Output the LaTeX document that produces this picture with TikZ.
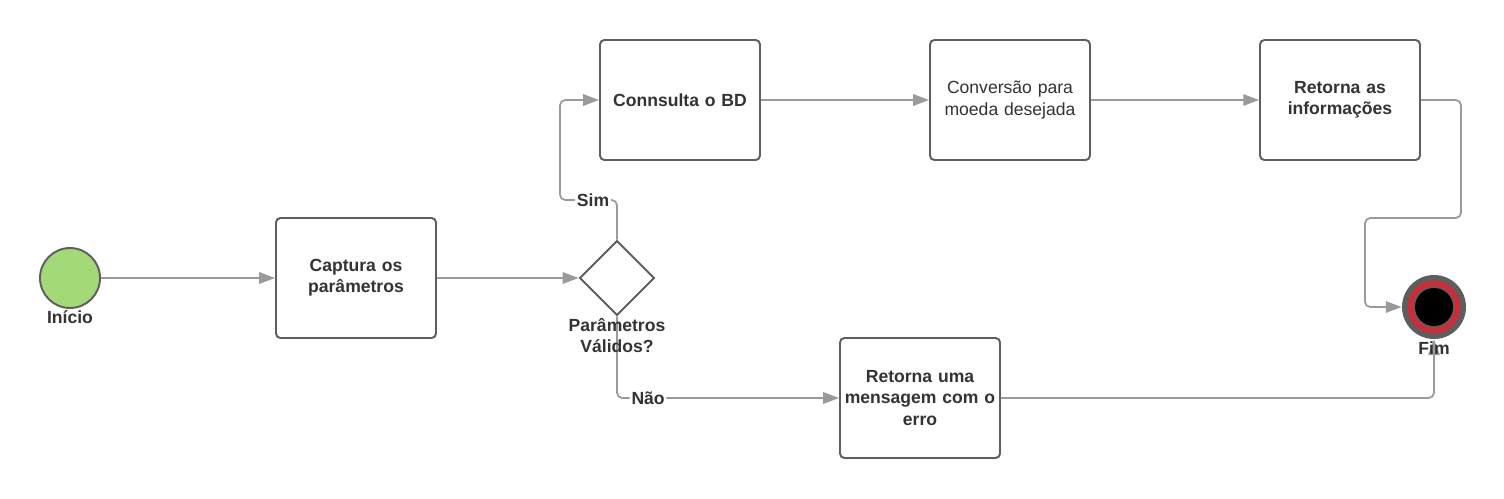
\documentclass[tikz,border=0pt]{standalone}
\usepackage{fontspec}
\setmainfont{Liberation Sans}
\usetikzlibrary{arrows.meta,shapes.geometric,positioning}
\definecolor{linegray}{HTML}{9A9A9A}
\definecolor{boxgray}{HTML}{5E5E5E}
\definecolor{txtgray}{HTML}{333333}
\definecolor{startgreen}{HTML}{A3D977}
\definecolor{endred}{HTML}{C92D39}

\begin{document}
\begin{tikzpicture}[x=0.02cm,y=-0.02cm,
  font=\fontsize{10}{12}\selectfont\bfseries, text=txtgray,
  proc/.style={draw=boxgray, line width=1.1pt, rounded corners=2.5pt, fill=white,
    minimum width=3.2cm, minimum height=2.4cm, align=center, text width=3.15cm, inner xsep=0.5pt},
  flow/.style={draw=linegray, line width=1pt, rounded corners=3pt,
    -{Triangle[length=9pt,width=6.5pt]}},
  lbl/.style={fill=white, inner sep=1pt},
  caption/.style={inner sep=1pt, align=center}]
\useasboundingbox (0,0) rectangle (1504,498);

\node[circle, draw=boxgray, line width=1.1pt, fill=startgreen, minimum size=1.2cm] (start) at (70,278) {};
\node[proc] (captura) at (356,278) {Captura os\\par\^ametros};
\node[diamond, draw=boxgray, line width=1.1pt, fill=white, aspect=1, minimum size=1.5cm, inner sep=0pt] (valid) at (617,278) {};
\node[proc] (consulta) at (680,100) {Connsulta o BD};
\node[proc, font=\fontsize{10}{12}\selectfont\mdseries] (conversao) at (1010,100) {Convers\~ao para\\moeda desejada};
\node[proc] (retorna) at (1340,100) {Retorna as\\informa\c{c}\~oes};
\node[proc] (erro) at (920,398) {Retorna uma\\mensagem com o\\erro};
\node[circle, fill=boxgray, minimum size=1.28cm, inner sep=0pt] (fim) at (1434,307) {};
\fill[endred] (fim.center) circle[radius=0.53cm];
\fill[boxgray] (fim.center) circle[radius=0.41cm];
\fill[black] (fim.center) circle[radius=0.38cm];

\coordinate (simbend) at (560,200);
\coordinate (r1) at (1461,218);
\coordinate (r2) at (1365,218);

\draw[flow] (start) -- (captura);
\draw[flow] (captura) -- (valid);
\draw[flow] (valid.north) |- (simbend) node[lbl, pos=0.71] {Sim} |- (consulta.west);
\draw[flow] (valid.south) |- (erro.west) node[lbl, pos=0.57] {N\~ao};
\draw[flow] (consulta) -- (conversao);
\draw[flow] (conversao) -- (retorna);
\draw[flow] (retorna.east) -| (r1) -- (r2) |- (fim.west);
\draw[flow] (erro.east) -| (fim.south);

\node[caption, below=0pt of start] (startlbl) {In\'icio};
\node[caption, below=0pt of valid] (validlbl) {Par\^ametros\\V\'alidos?};
\node[caption, below=0pt of fim] (fimlbl) {Fim};
\end{tikzpicture}
\end{document}
